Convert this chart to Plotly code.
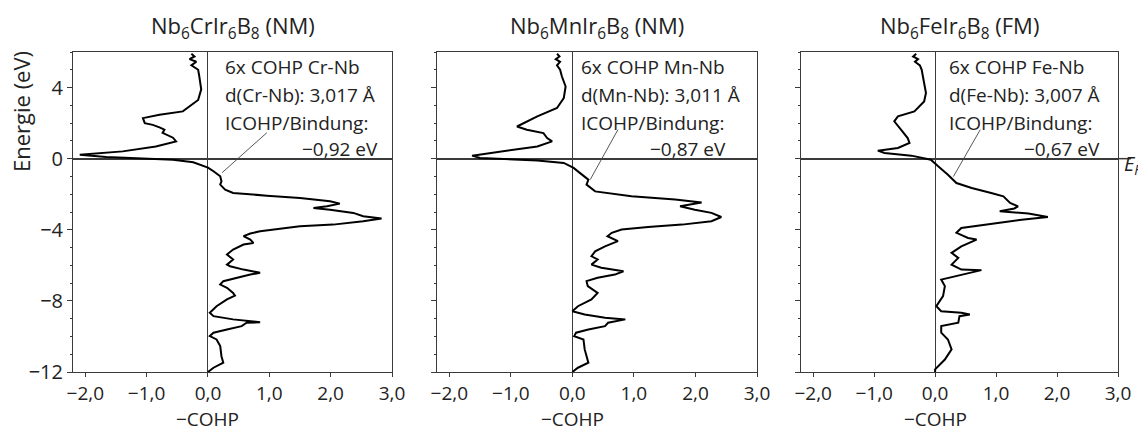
import plotly.graph_objects as go

# ---------------- data ----------------
titles = ["Nb<sub>6</sub>CrIr<sub>6</sub>B<sub>8</sub> (NM)",
          "Nb<sub>6</sub>MnIr<sub>6</sub>B<sub>8</sub> (NM)",
          "Nb<sub>6</sub>FeIr<sub>6</sub>B<sub>8</sub> (FM)"]
info_lines = [["6x COHP Cr-Nb", "d(Cr-Nb): 3,017 Å", "ICOHP/Bindung:"],
              ["6x COHP Mn-Nb", "d(Mn-Nb): 3,011 Å", "ICOHP/Bindung:"],
              ["6x COHP Fe-Nb", "d(Fe-Nb): 3,007 Å", "ICOHP/Bindung:"]]
icohp = ["−0,92 eV", "−0,87 eV", "−0,67 eV"]

x_tickvals = [-2, -1, 0, 1, 2, 3]
x_ticktext = ["−2,0", "−1,0", "0,0", "1,0", "2,0", "3,0"]
y_tickvals = [-12, -8, -4, 0, 4]
y_ticktext = ["−12", "−8", "−4", "0", "4"]

energy_cr = [5.9, 5.75, 5.6, 5.45, 5.25, 5.0, 4.6, 3.9, 3.3, 2.66, 2.47, 2.28, 2.0, 1.9, 1.75, 1.63, 1.45,
             1.18, 0.97, 0.69, 0.41, 0.22, 0.1, -0.06, -0.2, -0.35, -0.5, -0.71, -0.99, -1.27, -1.46, -1.74,
             -1.93, -2.08, -2.21, -2.4, -2.53, -2.68, -2.77, -2.87, -3.05, -3.24, -3.37, -3.52, -3.71, -3.8,
             -3.99, -4.08, -4.21, -4.36, -4.55, -4.74, -4.83, -5.11, -5.39, -5.67, -5.96, -6.05, -6.24, -6.42,
             -6.52, -6.7, -6.89, -7.08, -7.26, -7.55, -7.7, -7.92, -8.3, -8.67, -8.86, -9.04, -9.14, -9.2,
             -9.23, -9.42, -9.61, -9.79, -9.98, -10.17, -10.54, -11.11, -11.48, -11.76, -12.0]
cohp_cr = [-0.27, -0.22, -0.30, -0.19, -0.27, -0.16, -0.14, -0.11, -0.16, -0.41, -0.79, -1.06, -1.03, -0.9,
           -0.78, -0.71, -0.74, -0.57, -0.52, -0.85, -1.39, -2.09, -1.66, -0.57, -0.24, -0.1, 0.0, 0.09, 0.2,
           0.22, 0.2, 0.28, 0.41, 0.96, 1.5, 1.99, 2.15, 1.94, 1.72, 1.99, 2.37, 2.53, 2.83, 2.53, 2.04, 1.5,
           1.01, 0.85, 0.69, 0.58, 0.69, 0.74, 0.58, 0.41, 0.31, 0.41, 0.31, 0.36, 0.58, 0.85, 0.69, 0.47,
           0.25, 0.2, 0.31, 0.41, 0.44, 0.31, 0.14, 0.03, 0.09, 0.41, 0.69, 0.85, 0.63, 0.55, 0.31, 0.09,
           0.03, 0.14, 0.2, 0.22, 0.25, 0.09, 0.0]

energy_mn = [5.9, 5.75, 5.6, 5.45, 5.25, 5.0, 4.62, 4.06, 3.41, 2.85, 2.38, 1.81, 1.63, 1.44, 1.16, 0.97,
             0.69, 0.41, 0.17, 0.04, -0.1, -0.24, -0.52, -0.8, -1.18, -1.46, -1.84, -2.12, -2.3, -2.46,
             -2.68, -2.87, -3.05, -3.28, -3.52, -3.71, -3.84, -3.99, -4.17, -4.36, -4.64, -4.93, -5.21,
             -5.49, -5.67, -5.96, -6.14, -6.33, -6.52, -6.7, -6.89, -7.17, -7.55, -7.92, -8.3, -8.58, -8.76,
             -8.95, -9.04, -9.23, -9.42, -9.61, -9.79, -9.98, -10.17, -10.73, -11.48, -11.76, -12.0]
cohp_mn = [-0.25, -0.21, -0.27, -0.2, -0.25, -0.2, -0.17, -0.11, -0.14, -0.25, -0.57, -0.9, -0.74, -0.47,
           -0.41, -0.33, -0.57, -1.11, -1.63, -1.5, -0.57, -0.14, 0.02, 0.12, 0.26, 0.23, 0.37, 0.96, 1.67,
           2.1, 1.75, 1.99, 2.26, 2.42, 2.26, 1.78, 1.23, 0.8, 0.64, 0.57, 0.74, 0.53, 0.37, 0.31, 0.41,
           0.31, 0.47, 0.83, 0.69, 0.41, 0.23, 0.25, 0.41, 0.31, 0.09, 0.0, 0.2, 0.53, 0.86, 0.58, 0.53,
           0.26, 0.06, 0.03, 0.18, 0.2, 0.26, 0.09, 0.0]

energy_fe = [5.9, 5.75, 5.6, 5.45, 5.25, 5.0, 4.62, 3.69, 3.22, 2.66, 2.38, 2.1, 1.63, 1.16, 0.88, 0.6,
             0.45, 0.32, 0.17, -0.06, -0.43, -0.9, -1.37, -1.65, -1.93, -2.12, -2.49, -2.68, -2.8, -2.96,
             -3.09, -3.28, -3.43, -3.71, -3.9, -4.17, -4.46, -4.55, -4.93, -5.3, -5.58, -5.96, -6.24, -6.27,
             -6.52, -6.8, -7.17, -7.73, -8.3, -8.58, -8.67, -8.76, -8.86, -9.23, -9.42, -9.79, -10.17,
             -10.73, -11.3, -11.85, -12.0]
cohp_fe = [-0.31, -0.36, -0.28, -0.33, -0.25, -0.22, -0.2, -0.15, -0.18, -0.34, -0.61, -0.67, -0.56, -0.45,
           -0.42, -0.61, -0.94, -0.83, -0.39, -0.07, 0.05, 0.21, 0.35, 0.6, 0.92, 1.12, 1.23, 1.36, 1.3,
           1.06, 1.53, 1.85, 1.42, 0.87, 0.43, 0.35, 0.54, 0.68, 0.43, 0.27, 0.38, 0.27, 0.43, 0.76, 0.43,
           0.1, 0.16, 0.13, 0.02, 0.1, 0.43, 0.57, 0.4, 0.38, 0.1, 0.1, 0.21, 0.27, 0.16, 0.0, 0.0]

series = [(cohp_cr, energy_cr), (cohp_mn, energy_mn), (cohp_fe, energy_fe)]

# ---------------- layout ----------------
W, H = 1138, 432
FONT = "Open Sans"
TC = "#222"
LC = "#3a3a3a"
px_x = [(73, 392), (437, 757), (801, 1118)]
top_px, bot_px = 52, 372

fig = go.Figure()
for i, (xv, yv) in enumerate(series):
    sfx = "" if i == 0 else str(i + 1)
    fig.add_trace(go.Scatter(x=xv, y=yv, mode="lines", line=dict(color="black", width=2),
                             xaxis="x" + sfx, yaxis="y" + sfx, showlegend=False, hoverinfo="skip"))

layout = dict(width=W, height=H, margin=dict(l=0, r=0, t=0, b=0), template="none",
              paper_bgcolor="white", plot_bgcolor="white", showlegend=False,
              font=dict(family=FONT, size=18, color=TC))
for i in range(3):
    sfx = "" if i == 0 else str(i + 1)
    x0, x1 = px_x[i]
    layout["xaxis" + sfx] = dict(domain=[x0 / W, x1 / W], range=[-2.2, 3.0], anchor="y" + sfx,
                                 showgrid=False, showline=True, mirror=True, linecolor=LC, linewidth=1,
                                 ticks="outside", ticklen=4, tickcolor=LC, tickvals=x_tickvals,
                                 ticktext=x_ticktext, tickfont=dict(size=19, family=FONT, color=TC),
                                 zeroline=True, zerolinecolor=LC, zerolinewidth=1, fixedrange=True)
    layout["yaxis" + sfx] = dict(domain=[1 - bot_px / H, 1 - top_px / H], range=[-12, 6],
                                 anchor="x" + sfx, showgrid=False, showline=True, mirror=True,
                                 linecolor=LC, linewidth=1, ticks="outside", ticklen=5, tickcolor=LC,
                                 tickvals=y_tickvals, ticktext=y_ticktext, showticklabels=(i == 0),
                                 tickfont=dict(size=20, family=FONT, color=TC),
                                 minor=dict(dtick=1, ticks="outside", ticklen=2, tickcolor=LC),
                                 zeroline=True, zerolinecolor=LC, zerolinewidth=1.5, fixedrange=True)
fig.update_layout(**layout)

ann = []
text_x = [0.24, 0.11, 0.2]
val_x = [2.8, 2.53, 2.73]
line_E = [5.15, 3.6, 2.02]
val_E = 0.56
leader_start = [(0.96, 1.46), (0.74, 1.63), (0.74, 1.63)]
leader_end = [(0.23, -0.79), (0.29, -1.18), (0.3, -1.01)]
for i in range(3):
    sfx = "" if i == 0 else str(i + 1)
    x0, x1 = px_x[i]
    ann.append(dict(text=titles[i], xref="paper", yref="paper", x=(x0 + x1) / 2 / W, y=1 - 27 / H,
                    showarrow=False, xanchor="center", yanchor="middle",
                    font=dict(size=22, family=FONT, color=TC)))
    ann.append(dict(text="−COHP", xref="x" + sfx, yref="paper", x=0, y=1 - 419 / H,
                    showarrow=False, xanchor="center", yanchor="middle",
                    font=dict(size=19, family=FONT, color=TC)))
    for j, t in enumerate(info_lines[i]):
        ann.append(dict(text=t, xref="x" + sfx, yref="y" + sfx, x=text_x[i], y=line_E[j],
                        showarrow=False, xanchor="left", yanchor="middle",
                        font=dict(size=19, family=FONT, color=TC)))
    ann.append(dict(text=icohp[i], xref="x" + sfx, yref="y" + sfx, x=val_x[i], y=val_E,
                    showarrow=False, xanchor="right", yanchor="middle",
                    font=dict(size=19, family=FONT, color=TC)))
    fig.add_shape(type="line", xref="x" + sfx, yref="y" + sfx,
                  x0=leader_start[i][0], y0=leader_start[i][1],
                  x1=leader_end[i][0], y1=leader_end[i][1],
                  line=dict(color="#444", width=0.9))

ann.append(dict(text="Energie (eV)", xref="paper", yref="paper", x=21 / W, y=1 - 112 / H,
                textangle=-90, showarrow=False, xanchor="center", yanchor="middle",
                font=dict(size=22, family=FONT, color=TC)))
ann.append(dict(text="<i>E</i><sub><i>F</i></sub>", xref="paper", yref="y3", x=1122 / W, y=-0.3,
                showarrow=False, xanchor="left", yanchor="middle",
                font=dict(size=20, family=FONT, color=TC)))
fig.update_layout(annotations=ann)
fig.add_shape(type="line", xref="paper", yref="y3", x0=1118 / W, x1=1131 / W, y0=0, y1=0,
              line=dict(color=LC, width=1.5))

fig.write_html("out.html")
